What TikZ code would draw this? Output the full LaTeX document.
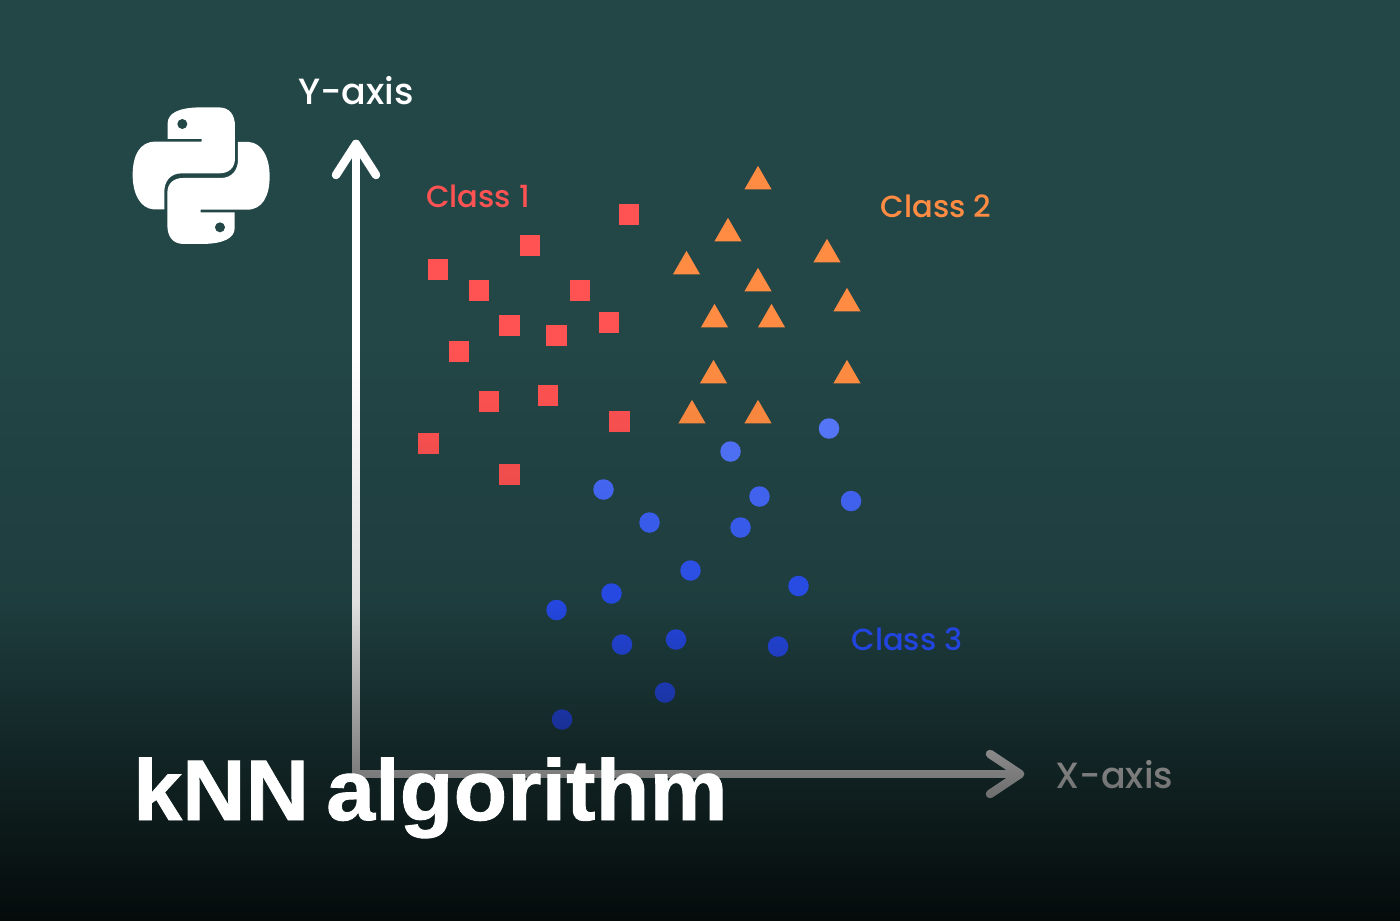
\documentclass[tikz,border=0pt]{standalone}
\usepackage{fontspec}
\usetikzlibrary{shapes.geometric,fadings}
\setmainfont{Poppins Medium}
\newfontfamily\axisfont{Poppins Medium}
\newfontfamily\titlefont[FakeBold=1.1,FakeStretch=1.02,LetterSpace=0.25,WordSpace=0.7]{Liberation Sans}
\definecolor{bgc}{HTML}{234647}
\definecolor{redc}{HTML}{FF5252}
\definecolor{orangec}{HTML}{FF8C42}
\definecolor{bluetop}{HTML}{587AFF}
\definecolor{bluelow}{HTML}{2A52FF}
\definecolor{classthree}{HTML}{2345DF}
\pgfdeclareverticalshading{lowshade}{100bp}{color(0bp)=(transparent!15); color(25bp)=(transparent!15); color(53.1bp)=(transparent!88); color(75bp)=(transparent!100); color(100bp)=(transparent!100)}
\tikzfading[name=lowdark, shading=lowshade]
\tikzset{
  sqmark/.style={fill=redc, minimum size=20.5pt, inner sep=0pt, outer sep=0pt},
  trimark/.style={fill=orangec, isosceles triangle, isosceles triangle apex angle=60, shape border rotate=90, minimum height=23.5pt, inner sep=0pt, outer sep=0pt},
  dotmark/.style={circle, minimum size=20.5pt, inner sep=0pt, outer sep=0pt},
  axisline/.style={draw=white, line width=8.5pt, line cap=round, line join=round},
  lab/.style={font=\fontsize{30.5}{34}\selectfont, inner sep=0pt},
  axlab/.style={font=\axisfont\fontsize{36.5}{40}\selectfont, inner sep=0pt, text=white},
}
\newcommand{\snakepath}{
  (143,147) -- (143,100) .. controls (143,70) and (175,52) .. (245,52)
  -- (295,52) .. controls (330,52) and (345,75) .. (345,110)
  -- (345,205) .. controls (345,235) and (325,250) .. (298,250)
  -- (185,250) .. controls (150,250) and (133,275) .. (133,305)
  -- (133,358) -- (100,358) .. controls (60,355) and (38,310) .. (38,255)
  .. controls (38,195) and (60,155) .. (105,155) -- (245,155) -- (245,147) -- cycle}
\begin{document}
\begin{tikzpicture}[x=1pt,y=-1pt]
\useasboundingbox (0,0) rectangle (1400,921);
\fill[bgc] (0,0) rectangle (1400,921);

% python logo
\begin{scope}[shift={(120,90)},x=0.3333pt,y=-0.3333pt]
  \fill[white] \snakepath;
  \fill[bgc] (187,102) circle[radius=15];
  \begin{scope}[shift={(487,514)},x=-0.3333pt,y=0.3333pt]
    \fill[white] \snakepath;
    \fill[bgc] (187,102) circle[radius=15];
  \end{scope}
\end{scope}

% axes
\coordinate (origin) at (356,774);
\coordinate (ytip) at (356,144);
\coordinate (xtip) at (1020,774);
\coordinate (yl) at (336,175);
\coordinate (yr) at (376,175);
\coordinate (xu) at (990,754);
\coordinate (xd) at (990,794);
\draw[axisline] (ytip) -- (origin) -- (xtip);
\draw[axisline] (yl) -- (ytip) -- (yr);
\draw[axisline] (xu) -- (xtip) -- (xd);

% labels
\node[axlab] (ylabel) at (356,91) {Y-axis};
\node[axlab] (xlabel) at (1114.5,775) {X-axis};
\node[lab,text=redc] (c1) at (478,196) {Class 1};
\node[lab,text=orangec] (c2) at (936,206) {Class 2};

% class 1
\foreach \x/\y [count=\i] in {629.2/214.3,530.2/245.3,438.2/269.3,479.2/290.3,580/290.3,509.5/325.3,556.5/335.3,609.2/322.3,459/351.3,489.2/401.3,548.2/395.3,619.3/421.3,428.3/443.3,509.5/474.3}
  \node[sqmark] (r\i) at (\x,\y) {};
% class 2
\foreach \x/\y [count=\i] in {758/181.5,728/233.5,827/254.5,686.5/266.5,758/283.5,847/303.5,714.5/319.5,771.5/319.5,713.5/375.5,847/375.5,692/415.5,758/415.5}
  \node[trimark] (t\i) at (\x,\y) {};
% class 3
\foreach \x/\y [count=\i] in {829/428.5,730.5/451.5,759.5/496.5,851/501,603.5/489.5,649.5/522.5,740.5/527.5,690.5/570.5,798.5/586,611.5/593.5,556.5/610,622/644.5,676/639.5,778/646.5,665/692.5,562/719.5}{
  \pgfmathtruncatemacro\m{max(0,min(100,(600-\y)/1.7))}
  \node[dotmark,fill=bluetop!\m!bluelow] (b\i) at (\x,\y) {};
}

% darkening toward the bottom
\fill[black, path fading=lowdark] (0,350) rectangle (1400,921);

\node[lab,text=classthree] (c3) at (907,639) {Class 3};

% title
\node[anchor=base west, inner sep=0pt, text=white, font=\titlefont\bfseries\fontsize{86}{90}\selectfont] (title) at (133,820) {kNN algorithm};
\end{tikzpicture}
\end{document}
